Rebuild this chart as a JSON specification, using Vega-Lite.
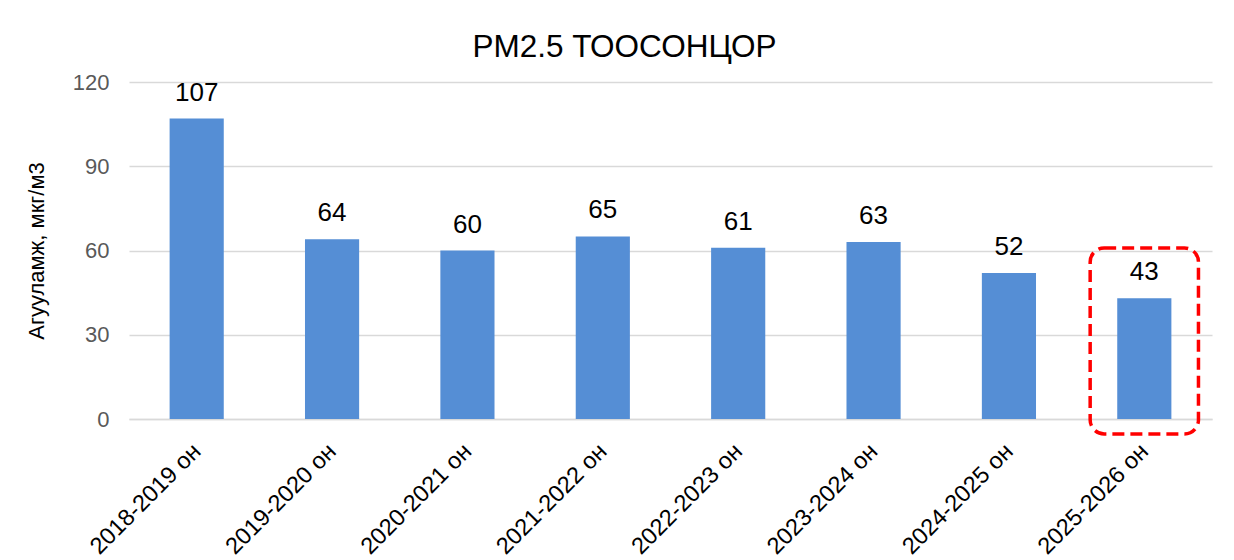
{
  "$schema": "https://vega.github.io/schema/vega-lite/v6.json",
  "autosize": {"type": "none"},
  "width": 1083,
  "height": 337,
  "padding": {"left": 129, "top": 82, "right": 22, "bottom": 141},
  "background": "white",
  "config": {
    "view": {"stroke": null},
    "font": "Liberation Sans"
  },
  "title": {
    "text": "PM2.5 ТООСОНЦОР",
    "fontSize": 31.5,
    "fontWeight": "normal",
    "color": "#000000",
    "font": "Liberation Sans",
    "anchor": "middle",
    "dx": -46,
    "offset": 8
  },
  "data": {
    "values": [
      {"season": "2018-2019 он", "value": 107},
      {"season": "2019-2020 он", "value": 64},
      {"season": "2020-2021 он", "value": 60},
      {"season": "2021-2022 он", "value": 65},
      {"season": "2022-2023 он", "value": 61},
      {"season": "2023-2024 он", "value": 63},
      {"season": "2024-2025 он", "value": 52},
      {"season": "2025-2026 он", "value": 43}
    ]
  },
  "encoding": {
    "x": {
      "field": "season",
      "type": "nominal",
      "sort": null,
      "scale": {"paddingInner": 0.2, "paddingOuter": 0.1},
      "axis": {
        "title": null,
        "labelAngle": -45,
        "labelFontSize": 23.5,
        "labelColor": "#000000",
        "labelFont": "Liberation Sans",
        "labelPadding": 20,
        "labelOffset": -8,
        "ticks": false,
        "domain": true,
        "domainColor": "#d9d9d9",
        "domainWidth": 1.5,
        "grid": false
      }
    }
  },
  "layer": [
    {
      "mark": {"type": "bar", "color": "#558ED5", "width": {"band": 0.5}},
      "encoding": {
        "y": {
          "field": "value",
          "type": "quantitative",
          "scale": {"domain": [0, 120]},
          "axis": {
            "values": [0, 30, 60, 90, 120],
            "title": "Агууламж, мкг/м3",
            "titleFontSize": 22,
            "titleFontWeight": "normal",
            "titleColor": "#000000",
            "titleFont": "Liberation Sans",
            "titlePadding": 24,
            "labelFontSize": 22,
            "labelColor": "#595959",
            "labelFont": "Liberation Sans",
            "labelPadding": 20,
            "ticks": false,
            "domain": false,
            "grid": true,
            "gridColor": "#d9d9d9",
            "gridWidth": 1.5
          }
        }
      }
    },
    {
      "mark": {"type": "text", "fontSize": 26, "color": "#000000", "baseline": "alphabetic", "dy": -18, "font": "Liberation Sans"},
      "encoding": {
        "y": {"field": "value", "type": "quantitative"},
        "text": {"field": "value", "type": "quantitative"}
      }
    },
    {
      "transform": [{"filter": "datum.season === '2025-2026 он'"}],
      "mark": {"type": "rect", "fill": null, "stroke": "#FF0000", "strokeWidth": 3.5, "strokeDash": [12, 6], "cornerRadius": 14, "clip": false},
      "encoding": {
        "y": {"datum": 60.9, "type": "quantitative"},
        "y2": {"datum": -5.3}
      }
    }
  ]
}
